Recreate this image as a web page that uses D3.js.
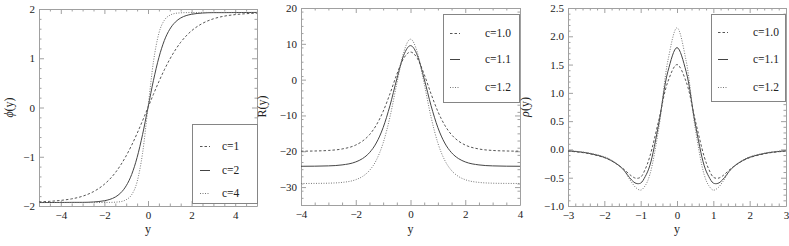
<!DOCTYPE html>
<html>
<head>
<meta charset="utf-8">
<script src="https://cdn.jsdelivr.net/npm/d3@7"></script>
<style>
  body { margin: 0; background: #fff; }
  svg { display: block; }
  svg text { font-family: "Liberation Serif", "Times New Roman", "DejaVu Serif", serif; }
</style>
</head>
<body>
<div id="chart"></div>
<script>
'use strict';
// three soliton profiles side by side: phi(y), R(y), rho(y)

// ---- panel 1 : phi(y)
var phiX = [-5, -4.5, -4, -3.5, -3, -2.5, -2, -1.75, -1.5, -1.25, -1, -0.75, -0.5, -0.25, 0,
            0.25, 0.5, 0.75, 1, 1.25, 1.5, 1.75, 2, 2.5, 3, 3.5, 4, 4.5, 5];
var phiC1 = [-1.916, -1.905, -1.886, -1.855, -1.801, -1.708, -1.558, -1.453, -1.324, -1.166, -0.980, -0.766, -0.527, -0.268, 0,
             0.268, 0.527, 0.766, 0.980, 1.166, 1.324, 1.453, 1.558, 1.708, 1.801, 1.855, 1.886, 1.905, 1.916];
var phiC2 = [-1.930, -1.929, -1.928, -1.926, -1.926, -1.918, -1.893, -1.866, -1.818, -1.733, -1.590, -1.361, -1.015, -0.550, 0,
             0.550, 1.015, 1.361, 1.590, 1.733, 1.818, 1.866, 1.893, 1.918, 1.926, 1.926, 1.928, 1.929, 1.930];
var phiC4 = [-1.930, -1.930, -1.930, -1.930, -1.930, -1.930, -1.928, -1.927, -1.922, -1.911, -1.872, -1.772, -1.509, -0.930, 0,
             0.930, 1.509, 1.772, 1.872, 1.911, 1.922, 1.927, 1.928, 1.930, 1.930, 1.930, 1.930, 1.930, 1.930];
var phiLabels = ["c=1", "c=2", "c=4"];
var phiXTicks = [-4, -2, 0, 2, 4];
var phiYTicks = [-2, -1, 0, 1, 2];

// ---- panel 2 : R(y)
var rX = [-4, -3.5, -3, -2.5, -2, -1.75, -1.5, -1.25, -1, -0.75, -0.5, -0.25, 0,
          0.25, 0.5, 0.75, 1, 1.25, 1.5, 1.75, 2, 2.5, 3, 3.5, 4];
var rC10 = [-19.97, -19.92, -19.77, -19.36, -18.26, -17.14, -15.39, -12.71, -8.89, -3.95, 1.48, 5.94, 7.7,
            5.94, 1.48, -3.95, -8.89, -12.71, -15.39, -17.14, -18.26, -19.36, -19.77, -19.92, -19.97];
var rC11 = [-24.19, -24.16, -24.08, -23.81, -22.97, -22.03, -20.40, -17.69, -13.40, -7.25, 0.17, 6.77, 9.5,
            6.77, 0.17, -7.25, -13.40, -17.69, -20.40, -22.03, -22.97, -23.81, -24.08, -24.16, -24.19];
var rC12 = [-28.99, -28.97, -28.91, -28.69, -27.93, -27.02, -25.38, -22.50, -17.70, -10.42, -1.10, 7.60, 11.3,
            7.60, -1.10, -10.42, -17.70, -22.50, -25.38, -27.02, -27.93, -28.69, -28.91, -28.97, -28.99];
var rLabels = ["c=1.0", "c=1.1", "c=1.2"];
var rXTicks = [-4, -2, 0, 2, 4];
var rYTicks = [-30, -20, -10, 0, 10, 20];

// ---- panel 3 : rho(y)
var rhoX = [-3, -2.5, -2, -1.75, -1.5, -1.25, -1.125, -1, -0.875, -0.75, -0.5, -0.25, 0,
            0.25, 0.5, 0.75, 0.875, 1, 1.125, 1.25, 1.5, 1.75, 2, 2.5, 3];
var rhoC10 = [-0.03, -0.065, -0.145, -0.22, -0.33, -0.47, -0.51, -0.49, -0.35, -0.13, 0.52, 1.20, 1.50,
              1.20, 0.52, -0.13, -0.35, -0.49, -0.51, -0.47, -0.33, -0.22, -0.145, -0.065, -0.03];
var rhoC11 = [-0.025, -0.06, -0.14, -0.22, -0.34, -0.54, -0.60, -0.595, -0.48, -0.29, 0.46, 1.38, 1.80,
              1.38, 0.46, -0.29, -0.48, -0.595, -0.60, -0.54, -0.34, -0.22, -0.14, -0.06, -0.025];
var rhoC12 = [-0.02, -0.055, -0.13, -0.21, -0.34, -0.58, -0.68, -0.72, -0.64, -0.45, 0.38, 1.57, 2.15,
              1.57, 0.38, -0.45, -0.64, -0.72, -0.68, -0.58, -0.34, -0.21, -0.13, -0.055, -0.02];
var rhoLabels = ["c=1.0", "c=1.1", "c=1.2"];
var rhoXTicks = [-3, -2, -1, 0, 1, 2, 3];
var rhoYTicks = [-1.0, -0.5, 0.0, 0.5, 1.0, 1.5, 2.0, 2.5];

var styles = [
    {dash: "2.5,2", color: "#555"},
    {dash: null, color: "#444"},
    {dash: "1,1.5", color: "#777"}
];
var frameColor = "#a0a0a0";

var svg = d3.select("#chart").append("svg")
    .attr("width", 789)
    .attr("height", 246);

function drawPanel(cfg, idx) {
    var x = d3.scaleLinear().domain(cfg.xDomain).range([cfg.left, cfg.right]);
    var y = d3.scaleLinear().domain(cfg.yDomain).range([cfg.bottom, cfg.top]);
    var g = svg.append("g");

    // clip for the curves
    var clipId = "clip" + idx;
    svg.append("clipPath").attr("id", clipId)
        .append("rect")
        .attr("x", cfg.left).attr("y", cfg.top)
        .attr("width", cfg.right - cfg.left).attr("height", cfg.bottom - cfg.top);

    var xMinor = d3.range(cfg.xDomain[0], cfg.xDomain[1] + 1e-9, cfg.xMinor)
        .filter(function(v) { return cfg.xTicks.every(function(t) { return Math.abs(t - v) > 1e-6; }); });
    var yMinor = d3.range(cfg.yDomain[0], cfg.yDomain[1] + 1e-9, cfg.yMinor)
        .filter(function(v) { return cfg.yTicks.every(function(t) { return Math.abs(t - v) > 1e-6; }); });

    function styleAxis(sel, keepDomain) {
        sel.attr("font-family", null);
        sel.selectAll(".tick line").attr("stroke", frameColor);
        sel.selectAll(".tick text")
            .attr("fill", "#222")
            .style("font-size", "11px");
        if (keepDomain) sel.select(".domain").attr("stroke", frameColor);
        else sel.select(".domain").remove();
    }

    // bottom
    g.append("g").attr("transform", "translate(0," + cfg.bottom + ")")
        .call(d3.axisBottom(x).tickValues(cfg.xTicks).tickSizeInner(-5).tickSizeOuter(0).tickPadding(5)
            .tickFormat(d3.format("d")))
        .call(styleAxis, true);
    g.append("g").attr("transform", "translate(0," + cfg.bottom + ")")
        .call(d3.axisBottom(x).tickValues(xMinor).tickSize(-2.5).tickFormat(""))
        .call(styleAxis, false);
    // top
    g.append("g").attr("transform", "translate(0," + cfg.top + ")")
        .call(d3.axisTop(x).tickValues(cfg.xTicks).tickSizeInner(-5).tickSizeOuter(0).tickFormat(""))
        .call(styleAxis, true);
    g.append("g").attr("transform", "translate(0," + cfg.top + ")")
        .call(d3.axisTop(x).tickValues(xMinor).tickSize(-2.5).tickFormat(""))
        .call(styleAxis, false);
    // left
    g.append("g").attr("transform", "translate(" + cfg.left + ",0)")
        .call(d3.axisLeft(y).tickValues(cfg.yTicks).tickSizeInner(-5).tickSizeOuter(0).tickPadding(4)
            .tickFormat(cfg.yFormat))
        .call(styleAxis, true);
    g.append("g").attr("transform", "translate(" + cfg.left + ",0)")
        .call(d3.axisLeft(y).tickValues(yMinor).tickSize(-2.5).tickFormat(""))
        .call(styleAxis, false);
    // right
    g.append("g").attr("transform", "translate(" + cfg.right + ",0)")
        .call(d3.axisRight(y).tickValues(cfg.yTicks).tickSizeInner(-5).tickSizeOuter(0).tickFormat(""))
        .call(styleAxis, true);
    g.append("g").attr("transform", "translate(" + cfg.right + ",0)")
        .call(d3.axisRight(y).tickValues(yMinor).tickSize(-2.5).tickFormat(""))
        .call(styleAxis, false);

    // axis titles
    g.append("text")
        .attr("x", x(0)).attr("y", 233)
        .attr("text-anchor", "middle")
        .style("font-size", "12px")
        .attr("fill", "#222")
        .text("y");
    g.append("text")
        .attr("transform", "translate(" + cfg.titleX + "," + ((cfg.top + cfg.bottom) / 2) + ") rotate(-90)")
        .attr("text-anchor", "middle")
        .style("font-size", "12px")
        .attr("fill", "#222")
        .html(cfg.title);

    // curves
    var line = d3.line()
        .x(function(d) { return x(d[0]); })
        .y(function(d) { return y(d[1]); })
        .curve(cfg.curve);
    cfg.series.forEach(function(s, i) {
        var pts = cfg.xs.map(function(v, j) { return [v, s[j]]; });
        g.append("path")
            .attr("clip-path", "url(#" + clipId + ")")
            .attr("d", line(pts))
            .attr("fill", "none")
            .attr("stroke", styles[i].color)
            .attr("stroke-width", 1)
            .attr("stroke-dasharray", styles[i].dash);
    });

    // legend
    var lg = cfg.legend;
    g.append("rect")
        .attr("x", lg.x + 0.5).attr("y", lg.y + 0.5)
        .attr("width", lg.w).attr("height", lg.h)
        .attr("fill", "#fff")
        .attr("stroke", "#858585")
        .attr("stroke-width", 1);
    cfg.labels.forEach(function(lab, i) {
        var ry = lg.y + lg.rows[i];
        g.append("line")
            .attr("x1", lg.x + lg.s0).attr("x2", lg.x + lg.s1)
            .attr("y1", ry + 0.5).attr("y2", ry + 0.5)
            .attr("stroke", styles[i].color)
            .attr("stroke-dasharray", styles[i].dash);
        g.append("text")
            .attr("x", lg.x + lg.tx).attr("y", ry + 4)
            .attr("text-anchor", "start")
            .style("font-size", "11.5px")
            .attr("fill", "#222")
            .text(lab);
    });
}

var panels = [
    {
        left: 39, right: 257, top: 9, bottom: 206,
        xDomain: [-5, 5], yDomain: [-2, 2],
        xTicks: phiXTicks, yTicks: phiYTicks, xMinor: 0.5, yMinor: 0.2,
        yFormat: d3.format("d"),
        title: "<tspan font-style='italic'>ϕ</tspan>(y)", titleX: 13,
        xs: phiX, series: [phiC1, phiC2, phiC4], labels: phiLabels,
        curve: d3.curveMonotoneX,
        legend: {x: 192, y: 124, w: 65, h: 79, rows: [22, 46, 69], s0: 8, s1: 18, tx: 30}
    },
    {
        left: 301, right: 520, top: 8, bottom: 205,
        xDomain: [-4, 4], yDomain: [-35, 20],
        xTicks: rXTicks, yTicks: rYTicks, xMinor: 0.5, yMinor: 2,
        yFormat: d3.format("d"),
        title: "R(y)", titleX: 266,
        xs: rX, series: [rC10, rC11, rC12], labels: rLabels,
        curve: d3.curveMonotoneX,
        legend: {x: 443, y: 14, w: 76, h: 88, rows: [19, 45, 73], s0: 7, s1: 17, tx: 42}
    },
    {
        left: 568, right: 786, top: 8, bottom: 206,
        xDomain: [-3, 3], yDomain: [-1, 2.5],
        xTicks: rhoXTicks, yTicks: rhoYTicks, xMinor: 0.2, yMinor: 0.1,
        yFormat: d3.format(".1f"),
        title: "<tspan font-style='italic'>ρ</tspan>(y)", titleX: 529,
        xs: rhoX, series: [rhoC10, rhoC11, rhoC12], labels: rhoLabels,
        curve: d3.curveCatmullRom,
        legend: {x: 711, y: 14, w: 74, h: 87, rows: [18, 45, 73], s0: 7, s1: 17, tx: 42}
    }
];

panels.forEach(drawPanel);
</script>
</body>
</html>
